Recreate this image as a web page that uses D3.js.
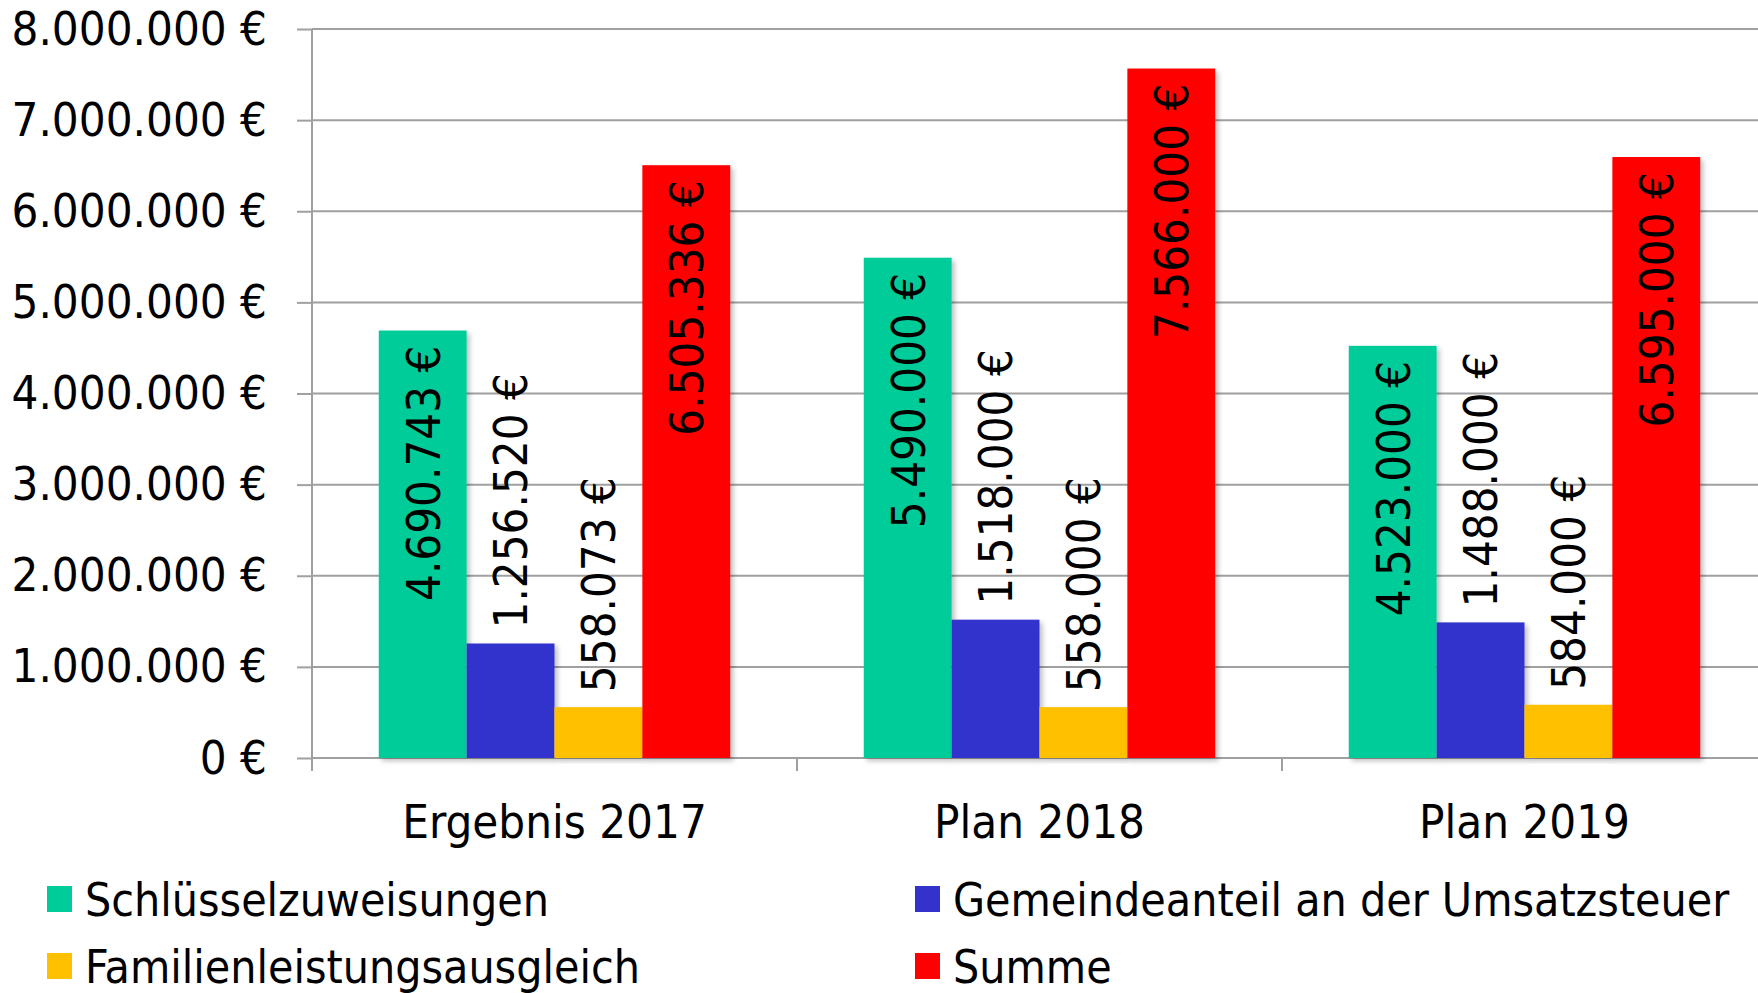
<!DOCTYPE html>
<html lang="de">
<head>
    <meta charset="UTF-8">
    <title>Zuweisungen</title>
    <style>
        body{
            margin:0;
            background:#fff;
        }
        svg text{
            font-family:"DejaVu Sans Condensed","DejaVu Sans",sans-serif;
            fill:#000;
        }
    </style>
    <script src="https://cdn.jsdelivr.net/npm/d3@7/dist/d3.min.js"></script>
</head>
<body>
<div id="container"></div>
</body>
<script>
    // data
    var categories = ['Ergebnis 2017', 'Plan 2018', 'Plan 2019'];
    var seriesNames = ['Schlüsselzuweisungen', 'Gemeindeanteil an der Umsatzsteuer', 'Familienleistungsausgleich', 'Summe'];
    var schluessel = [4690743, 5490000, 4523000];
    var umsatzsteuer = [1256520, 1518000, 1488000];
    var familie = [558073, 558000, 584000];
    var summe = [6505336, 7566000, 6595000];
    var yTicks = [0, 1000000, 2000000, 3000000, 4000000, 5000000, 6000000, 7000000, 8000000];
    var colors = ['#00CC99', '#3333CC', '#FFC000', '#FF0000'];
    var insideLabel = [true, false, false, true];

    var values = [schluessel, umsatzsteuer, familie, summe];
    var rows = categories.map(function (c, i) {
        return {cat: c, vals: values.map(function (s, k) { return {k: k, v: s[i]}; })};
    });

    var w = 1758, h = 993,
        padLeft = 312, padTop = 29, baseY = 758, bandRight = 1767;

    var de = d3.formatLocale({decimal: ',', thousands: '.', grouping: [3], currency: ['', ' €']});
    var fmt = function (v) { return de.format(',.0f')(v) + ' €'; };

    var x0 = d3.scaleBand().domain(categories).range([padLeft, bandRight]).padding(0);
    var x1 = d3.scaleBand().domain(d3.range(seriesNames.length)).range([0, x0.bandwidth()])
        .paddingInner(0).paddingOuter(0.76);
    var y = d3.scaleLinear().domain([0, 8000000]).range([baseY, padTop]);

    var svg = d3.select('#container').append('svg').attr('width', w).attr('height', h);

    var defs = svg.append('defs');
    defs.append('filter').attr('id', 'shadow').attr('x', '-10%').attr('y', '-5%').attr('width', '130%').attr('height', '115%')
        .append('feDropShadow').attr('dx', 3).attr('dy', 3).attr('stdDeviation', 2.5)
        .attr('flood-color', '#000').attr('flood-opacity', 0.25);

    // gridlines
    svg.append('g').attr('class', 'grid')
        .selectAll('line').data(yTicks).enter().append('line')
        .attr('x1', padLeft).attr('x2', w)
        .attr('y1', function (d) { return y(d); })
        .attr('y2', function (d) { return y(d); })
        .attr('stroke', '#a0a0a0').attr('stroke-width', 2);

    // y axis
    var yAxis = d3.axisLeft(y).tickValues(yTicks).tickSize(15).tickPadding(30).tickFormat(fmt);
    var gy = svg.append('g').attr('transform', 'translate(' + padLeft + ',0)').call(yAxis);
    gy.select('.domain').remove();
    gy.selectAll('.tick line').attr('stroke', '#a0a0a0').attr('stroke-width', 2);
    gy.selectAll('.tick text').attr('font-size', 47);
    svg.append('line').attr('x1', padLeft).attr('x2', padLeft).attr('y1', padTop).attr('y2', baseY + 13)
        .attr('stroke', '#a0a0a0').attr('stroke-width', 2);

    // x axis: labels in band centres, ticks on band edges
    var xAxis = d3.axisBottom(x0).tickSize(0).tickPadding(47);
    var gx = svg.append('g').attr('transform', 'translate(0,' + baseY + ')').call(xAxis);
    gx.select('.domain').remove();
    gx.selectAll('.tick text').attr('font-size', 47);
    svg.append('g').selectAll('line').data(categories.slice(1)).enter().append('line')
        .attr('x1', function (d) { return x0(d); })
        .attr('x2', function (d) { return x0(d); })
        .attr('y1', baseY).attr('y2', baseY + 13)
        .attr('stroke', '#a0a0a0').attr('stroke-width', 2);

    // bars
    var groups = svg.append('g').selectAll('g').data(rows).enter().append('g')
        .attr('transform', function (d) { return 'translate(' + x0(d.cat) + ',0)'; });

    groups.selectAll('rect').data(function (d) { return d.vals; }).enter().append('rect')
        .attr('x', function (d) { return x1(d.k); })
        .attr('y', function (d) { return y(d.v); })
        .attr('width', x1.bandwidth())
        .attr('height', function (d) { return y(0) - y(d.v); })
        .attr('fill', function (d) { return colors[d.k]; })
        .attr('filter', 'url(#shadow)');

    // rotated value labels
    groups.selectAll('text').data(function (d) { return d.vals; }).enter().append('text')
        .attr('transform', function (d) {
            var cx = x1(d.k) + x1.bandwidth() / 2;
            var cy = insideLabel[d.k] ? y(d.v) + 15 : y(d.v) - 15;
            return 'translate(' + cx + ',' + cy + ') rotate(-90)';
        })
        .attr('text-anchor', function (d) { return insideLabel[d.k] ? 'end' : 'start'; })
        .attr('dy', '0.36em')
        .attr('font-size', 47)
        .text(function (d) { return fmt(d.v); });

    // legend
    var legendPos = [[47, 899], [915, 899], [47, 966], [915, 966]];
    var legend = svg.append('g').selectAll('g').data(seriesNames).enter().append('g')
        .attr('transform', function (d, i) { return 'translate(' + legendPos[i][0] + ',' + legendPos[i][1] + ')'; });
    legend.append('rect').attr('x', 0).attr('y', -13).attr('width', 25).attr('height', 26)
        .attr('fill', function (d, i) { return colors[i]; });
    legend.append('text').attr('x', 38).attr('dy', '0.36em').attr('font-size', 46)
        .text(function (d) { return d; });
</script>
</html>
